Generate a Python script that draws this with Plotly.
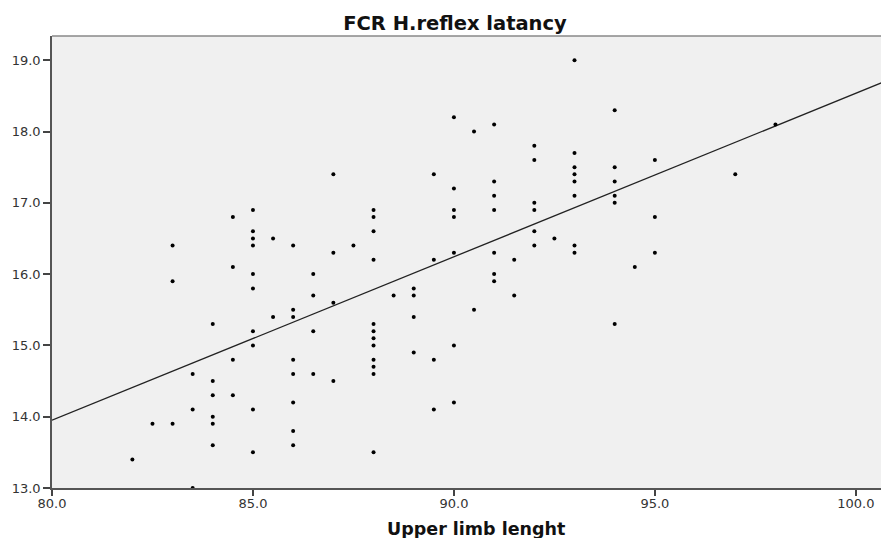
import numpy as np
import plotly.graph_objects as go

# Upper limb length (x) and FCR H-reflex latency (y)
limb_length = [
    82.0,
    82.5,
    83.0, 83.0, 83.0,
    83.5, 83.5, 83.5,
    84.0, 84.0, 84.0, 84.0, 84.0, 84.0,
    84.5, 84.5, 84.5, 84.5,
    85.0, 85.0, 85.0, 85.0, 85.0, 85.0, 85.0, 85.0, 85.0, 85.0,
    85.5, 85.5,
    86.0, 86.0, 86.0, 86.0, 86.0, 86.0, 86.0, 86.0,
    86.5, 86.5, 86.5, 86.5,
    87.0, 87.0, 87.0, 87.0,
    87.5,
    88.0, 88.0, 88.0, 88.0, 88.0, 88.0, 88.0, 88.0, 88.0, 88.0, 88.0, 88.0,
    88.5,
    89.0, 89.0, 89.0, 89.0,
    89.5, 89.5, 89.5, 89.5,
    90.0, 90.0, 90.0, 90.0, 90.0, 90.0, 90.0,
    90.5, 90.5,
    91.0, 91.0, 91.0, 91.0, 91.0, 91.0, 91.0,
    91.5, 91.5,
    92.0, 92.0, 92.0, 92.0, 92.0, 92.0,
    92.5,
    93.0, 93.0, 93.0, 93.0, 93.0, 93.0, 93.0, 93.0,
    94.0, 94.0, 94.0, 94.0, 94.0, 94.0,
    94.5,
    95.0, 95.0, 95.0,
    97.0,
    98.0,
]
latency = [
    13.4,
    13.9,
    16.4, 15.9, 13.9,
    14.6, 14.1, 13.0,
    15.3, 14.5, 14.3, 14.0, 13.9, 13.6,
    16.8, 16.1, 14.8, 14.3,
    16.9, 16.6, 16.5, 16.4, 16.0, 15.8, 15.2, 15.0, 14.1, 13.5,
    16.5, 15.4,
    16.4, 15.5, 15.4, 14.8, 14.6, 14.2, 13.8, 13.6,
    16.0, 15.7, 15.2, 14.6,
    17.4, 16.3, 15.6, 14.5,
    16.4,
    16.9, 16.8, 16.6, 16.2, 15.3, 15.2, 15.1, 15.0, 14.8, 14.7, 14.6, 13.5,
    15.7,
    15.8, 15.7, 15.4, 14.9,
    17.4, 16.2, 14.8, 14.1,
    18.2, 17.2, 16.9, 16.8, 16.3, 15.0, 14.2,
    18.0, 15.5,
    18.1, 17.3, 17.1, 16.9, 16.3, 16.0, 15.9,
    16.2, 15.7,
    17.8, 17.6, 17.0, 16.9, 16.6, 16.4,
    16.5,
    19.0, 17.7, 17.5, 17.4, 17.3, 17.1, 16.4, 16.3,
    18.3, 17.5, 17.3, 17.1, 17.0, 15.3,
    16.1,
    17.6, 16.8, 16.3,
    17.4,
    18.1,
]

x_ticks = [80.0, 85.0, 90.0, 95.0, 100.0]
y_ticks = [13.0, 14.0, 15.0, 16.0, 17.0, 18.0, 19.0]

x_range = [80.0, 100.8]
y_range = [13.0, 19.34]

# fit line as shown in the chart (values read at the ends of the x range)
fit_line_x = [80.0, 100.8]
fit_line_y = [13.95, 18.72]

fig = go.Figure()
fig.add_trace(go.Scatter(
    x=fit_line_x, y=fit_line_y, mode="lines",
    line=dict(color="#222222", width=1.3),
    hoverinfo="skip", showlegend=False,
))
fig.add_trace(go.Scatter(
    x=limb_length, y=latency, mode="markers",
    marker=dict(color="black", size=4, symbol="circle"),
    showlegend=False,
))

font_family = "DejaVu Sans, Verdana, sans-serif"
tick_font = dict(family=font_family, size=13, color="#333333")

# page body has an 8px margin, so the figure is sized/offset to compensate
W, H = 881, 530

fig.update_layout(
    width=W, height=H,
    margin=dict(l=44, r=1, t=28, b=50, autoexpand=False),
    paper_bgcolor="white",
    plot_bgcolor="#f0f0f0",
    font=tick_font,
    showlegend=False,
    title=dict(
        text="<b>FCR H.reflex latancy</b>",
        x=447 / W, xanchor="center", xref="container",
        y=1 - 15 / H, yanchor="middle", yref="container",
        font=dict(family=font_family, size=19.5, color="#111111"),
    ),
    xaxis=dict(
        range=x_range, tickvals=x_ticks, ticktext=[f"{v:.1f}" for v in x_ticks],
        showgrid=False, zeroline=False, automargin=False,
        showline=True, linecolor="#555555", linewidth=1.5,
        ticks="outside", ticklen=6, tickcolor="#444444", tickwidth=1.5,
        ticklabelstandoff=-3,
        tickfont=tick_font,
    ),
    yaxis=dict(
        range=y_range, tickvals=y_ticks, ticktext=[f"{v:.1f}" for v in y_ticks],
        showgrid=False, zeroline=False, automargin=False,
        showline=True, linecolor="#555555", linewidth=1.5,
        ticks="outside", ticklen=7, tickcolor="#444444", tickwidth=1.5,
        tickfont=tick_font,
    ),
    annotations=[dict(
        text="<b>Upper limb lenght</b>", showarrow=False,
        xref="paper", x=(468 - 44) / (W - 45), xanchor="center",
        yref="paper", y=-(521 - 480) / 452, yanchor="middle",
        font=dict(family=font_family, size=17.5, color="#111111"),
    )],
    shapes=[dict(type="line", xref="paper", yref="paper", x0=0, x1=1, y0=1, y1=1,
                 line=dict(color="#888888", width=1.5))],
)

fig.write_html("out.html")
